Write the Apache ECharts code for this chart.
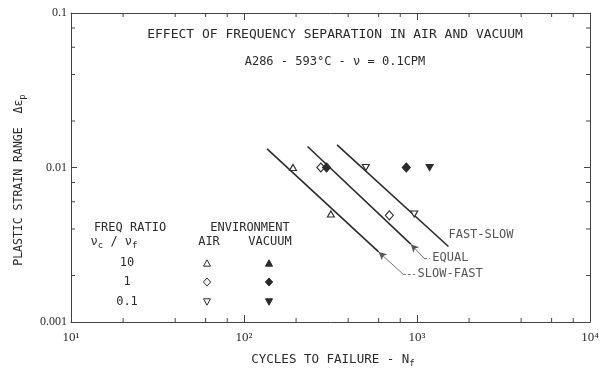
<!DOCTYPE html>
<html><head><meta charset="utf-8">
<script src="https://cdn.jsdelivr.net/npm/echarts@6/dist/echarts.min.js"></script>
<style>html,body{margin:0;padding:0;background:#fff}#c{width:604px;height:373px}</style>
</head><body><div id="c"></div>
<script>
// ---- axis ticks ----
const xTickValues = [10, 100, 1000, 10000];
const xTickLabels = ['10¹', '10²', '10³', '10⁴'];
const yTickValues = [0.001, 0.01, 0.1];
const yTickLabels = ['0.001', '0.01', '0.1'];
const xMinorTicks = [20, 40, 60, 80, 200, 400, 600, 800, 2000, 4000, 6000, 8000];
const yMinorTicks = [0.002, 0.004, 0.006, 0.008, 0.02, 0.04, 0.06, 0.08];

// ---- data points [cycles to failure, plastic strain range] ----
const airTriangle = [[192, 0.01], [318, 0.005]];
const airDiamond = [[278, 0.01], [692, 0.0049]];
const airInvTriangle = [[506, 0.01], [964, 0.005]];
const vacDiamond = [[300, 0.01], [867, 0.01]];
const vacInvTriangle = [[1183, 0.01]];

// ---- fitted lines ----
const lineSlowFast = [[136, 0.0132], [600, 0.00284]];
const lineEqual = [[233, 0.01368], [921, 0.00319]];
const lineFastSlow = [[345, 0.01402], [1520, 0.00308]];

// ---- annotations ----
const curveNames = ['SLOW-FAST', 'EQUAL', 'FAST-SLOW'];
const leaderSlowFast = [[600, 0.00284], [828, 0.00205], [975, 0.00205]];
const leaderEqual = [[921, 0.00319], [1096, 0.00259], [1185, 0.00259]];
const curveLabelAnchors = [[975, 0.00205], [1185, 0.00259], [1470, 0.00367]];

const titleText = 'EFFECT OF FREQUENCY SEPARATION IN AIR AND VACUUM';
const subtitleText = 'A286 - 593°C - ν = 0.1CPM';
const ratioLabels = ['10', '1', '0.1'];

const INK = '#2b2b2b';
const MONO = '"DejaVu Sans Mono", monospace';
const SERIF = '"Liberation Serif", serif';

function labelFor(values, labels) {
  return v => {
    const e = Math.round(Math.log10(v));
    const i = values.findIndex(t => Math.round(Math.log10(t)) === e);
    return i >= 0 ? labels[i] : '';
  };
}

function tickSeries(values, dim, edge, dx, dy, len) {
  return {
    type: 'custom', silent: true, clip: false, z: 5,
    data: values.map(v => dim === 'x' ? [v, edge] : [edge, v]),
    renderItem: (params, api) => {
      const p = api.coord([api.value(0), api.value(1)]);
      return { type: 'line', shape: { x1: p[0], y1: p[1], x2: p[0] + dx * len, y2: p[1] + dy * len },
               style: { stroke: '#444', lineWidth: 1 } };
    }
  };
}

function pointSeries(data, symbol, filled, rotate, size) {
  return {
    type: 'scatter', data: data, symbol: symbol, symbolRotate: rotate || 0, symbolSize: size,
    itemStyle: { color: filled ? INK : '#fff', borderColor: INK, borderWidth: 1.1, opacity: 1 },
    z: 4
  };
}

function lineSeries(data, leader) {
  const s = {
    type: 'line', data: data, symbol: 'none', silent: true,
    lineStyle: { color: INK, width: 1.6 }, z: 3
  };
  if (leader) {
    s.markLine = {
      silent: true, symbol: ['none', 'none'], symbolSize: [6, 8], animation: false,
      label: { show: false },
      lineStyle: { color: '#555', width: 0.8, type: 'solid' },
      data: [
        [{ coord: leader[0], symbol: 'arrow' }, { coord: leader[1], symbol: 'none' }],
        [{ coord: leader[1], symbol: 'none', lineStyle: { type: [3, 2] } }, { coord: leader[2], symbol: 'none', lineStyle: { type: [3, 2] } }]
      ]
    };
  }
  return s;
}

const chart = echarts.init(document.getElementById('c'), null, { renderer: 'canvas' });

const legendTextStyle = { fill: INK, font: '12px ' + MONO, align: 'center', verticalAlign: 'middle' };
const rowsY = [263, 282, 302];
const airX = 207, vacX = 269;

function tri(x, y, inv, filled) {
  const h = 3.2, w = 3.5;
  const pts = inv ? [[x - w, y - h], [x + w, y - h], [x, y + h]] : [[x, y - h], [x - w, y + h], [x + w, y + h]];
  return { type: 'polygon', shape: { points: pts }, style: { fill: filled ? INK : '#fff', stroke: INK, lineWidth: 1 } };
}
function dia(x, y, filled) {
  return { type: 'polygon', shape: { points: [[x, y - 4], [x + 3.6, y], [x, y + 4], [x - 3.6, y]] },
           style: { fill: filled ? INK : '#fff', stroke: INK, lineWidth: 1 } };
}

const graphics = [
  { type: 'text', x: 335, y: 35, style: { text: titleText, fill: INK, font: '13px ' + MONO, align: 'center', verticalAlign: 'middle' } },
  { type: 'text', x: 335, y: 62, style: { text: subtitleText, fill: INK, font: '12px ' + MONO, align: 'center', verticalAlign: 'middle' } },
  { type: 'text', x: 333, y: 360, style: {
      text: '{a|CYCLES TO FAILURE - N}{s|f}', align: 'center', verticalAlign: 'middle',
      rich: { a: { fontFamily: MONO, fontSize: 12.5, fill: INK, color: INK }, s: { fontFamily: MONO, fontSize: 9, color: INK, fill: INK, padding: [7, 0, 0, 0] } } } },
  { type: 'text', x: 19, y: 180, rotation: Math.PI / 2, style: {
      text: '{a|PLASTIC STRAIN RANGE  Δε}{s|p}', align: 'center', verticalAlign: 'middle',
      rich: { a: { fontFamily: MONO, fontSize: 11.5, color: INK, fill: INK }, s: { fontFamily: MONO, fontSize: 9, color: INK, fill: INK, padding: [7, 0, 0, 0] } } } },
  { type: 'text', x: 130, y: 228, style: Object.assign({}, legendTextStyle, { text: 'FREQ RATIO' }) },
  { type: 'text', x: 114, y: 242, style: {
      text: '{a|ν}{s|c}{a| / ν}{s|f}', align: 'center', verticalAlign: 'middle',
      rich: { a: { fontFamily: MONO, fontSize: 12, color: INK, fill: INK }, s: { fontFamily: MONO, fontSize: 9, color: INK, fill: INK, padding: [7, 0, 0, 0] } } } },
  { type: 'text', x: 250, y: 228, style: Object.assign({}, legendTextStyle, { text: 'ENVIRONMENT' }) },
  { type: 'text', x: 209, y: 242, style: Object.assign({}, legendTextStyle, { text: 'AIR' }) },
  { type: 'text', x: 270, y: 242, style: Object.assign({}, legendTextStyle, { text: 'VACUUM' }) },
];
ratioLabels.forEach((t, i) => graphics.push({ type: 'text', x: 127, y: rowsY[i], style: Object.assign({}, legendTextStyle, { text: t }) }));
graphics.push(tri(airX, rowsY[0], false, false), dia(airX, rowsY[1], false), tri(airX, rowsY[2], true, false));
graphics.push(tri(vacX, rowsY[0], false, true), dia(vacX, rowsY[1], true), tri(vacX, rowsY[2], true, true));

const axisLineStyle = { color: '#444', width: 1 };
const baseX = {
  type: 'log', logBase: 10, min: 10, max: 10000, gridIndex: 0,
  axisLine: { show: true, onZero: false, lineStyle: axisLineStyle },
  axisTick: { show: true, inside: true, length: 7, lineStyle: { color: '#444' } },
  splitLine: { show: false }, minorTick: { show: false }
};
const baseY = {
  type: 'log', logBase: 10, min: 0.001, max: 0.1, gridIndex: 0,
  axisLine: { show: true, onZero: false, lineStyle: axisLineStyle },
  axisTick: { show: true, inside: true, length: 6, lineStyle: { color: '#444' } },
  splitLine: { show: false }, minorTick: { show: false }
};

const option = {
  animation: false,
  backgroundColor: '#fff',
  grid: { left: 71, right: 14, top: 13, bottom: 51, containLabel: false },
  xAxis: [
    Object.assign({}, baseX, { position: 'bottom',
      axisLabel: { formatter: labelFor(xTickValues, xTickLabels), fontFamily: SERIF, fontSize: 13, color: INK, margin: 9 } }),
    Object.assign({}, baseX, { position: 'top', axisLabel: { show: false } })
  ],
  yAxis: [
    Object.assign({}, baseY, { position: 'left',
      axisLabel: { formatter: labelFor(yTickValues, yTickLabels), fontFamily: SERIF, fontSize: 12, color: INK, margin: 4 } }),
    Object.assign({}, baseY, { position: 'right', axisLabel: { show: false } })
  ],
  graphic: graphics,
  series: [
    tickSeries(xMinorTicks, 'x', 0.001, 0, -1, 4),
    tickSeries(xMinorTicks, 'x', 0.1, 0, 1, 4),
    tickSeries(yMinorTicks, 'y', 10, 1, 0, 4),
    tickSeries(yMinorTicks, 'y', 10000, -1, 0, 4),
    lineSeries(lineSlowFast, leaderSlowFast),
    lineSeries(lineEqual, leaderEqual),
    lineSeries(lineFastSlow, null),
    pointSeries(airTriangle, 'triangle', false, 0, [7, 6]),
    pointSeries(airDiamond, 'diamond', false, 0, [8, 9]),
    pointSeries(airInvTriangle, 'triangle', false, 180, [7, 6]),
    pointSeries(vacDiamond, 'diamond', true, 0, [8, 9]),
    pointSeries(vacInvTriangle, 'triangle', true, 180, [7, 6]),
    {
      type: 'scatter', silent: true, symbol: 'circle', symbolSize: 1,
      itemStyle: { color: 'rgba(0,0,0,0)' },
      data: curveNames.map((n, i) => ({ name: n, value: curveLabelAnchors[i] })),
      label: { show: true, position: 'right', distance: 2, formatter: '{b}', fontFamily: MONO, fontSize: 12, color: INK },
      z: 6
    }
  ]
};
chart.setOption(option);
</script>
</body></html>
